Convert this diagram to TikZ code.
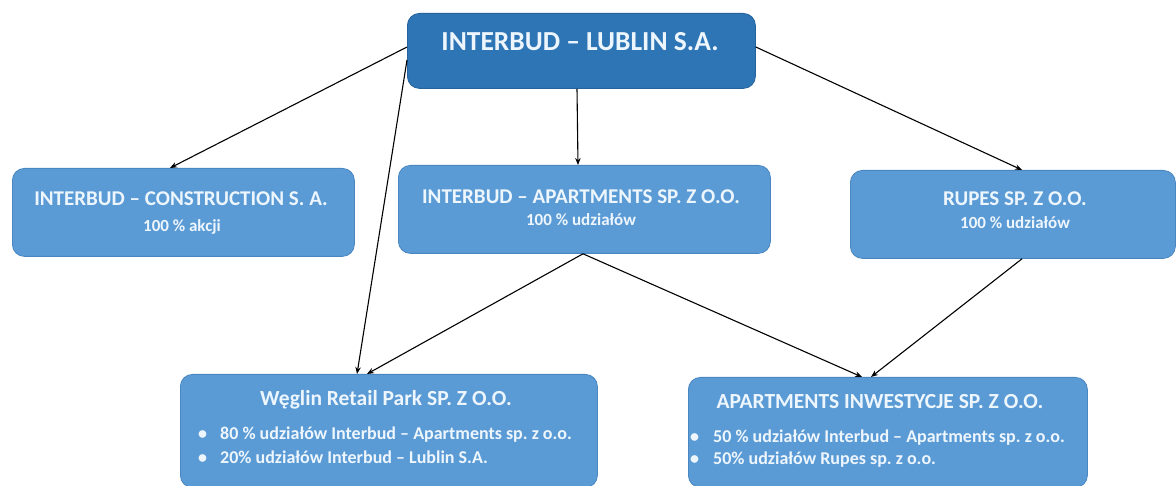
\documentclass[tikz,border=0pt]{standalone}
\usepackage{fontspec}
\setmainfont{Carlito}
\frenchspacing
\usetikzlibrary{arrows.meta,calc}
\definecolor{topblue}{HTML}{2E75B6}
\definecolor{boxblue}{HTML}{5B9BD5}
\definecolor{edgeblue}{HTML}{4A86C0}
\definecolor{txt}{HTML}{EEF6FD}
\tikzset{
  box/.style={draw=edgeblue, line width=0.8pt, fill=boxblue, rounded corners=12pt, inner sep=0pt, anchor=north west},
  topbox/.style={box, fill=topblue, draw=topblue!85!black},
  lbl/.style={text=txt, font=\bfseries, inner sep=0pt},
  conn/.style={draw=black, line width=1.1pt, -{Stealth[length=7pt,width=5.5pt]}},
}
\begin{document}
\begin{tikzpicture}[x=1pt,y=1pt]
\useasboundingbox (0,0) rectangle (1176,485);
% boxes (north west corners, y = 485 - px)
\node[topbox, minimum width=348pt, minimum height=75pt] (top) at (407,472) {};
\node[box, minimum width=342pt, minimum height=88pt] (cons) at (12,317) {};
\node[box, minimum width=372pt, minimum height=88pt] (apt) at (398,320) {};
\node[box, minimum width=325pt, minimum height=88pt] (rupes) at (850,315) {};
\node[box, minimum width=417pt, minimum height=113pt] (weg) at (180,111) {};
\node[box, minimum width=399pt, minimum height=110pt] (ai) at (688,108) {};
% texts
\node[lbl, font=\bfseries\fontsize{27.5}{31}\selectfont] (ttop) at (580,443) {INTERBUD – LUBLIN S.A.};
\node[lbl, font=\bfseries\fontsize{21}{24}\selectfont] (tcons) at (181,286) {INTERBUD – CONSTRUCTION S. A.};
\node[lbl, font=\bfseries\fontsize{17}{20}\selectfont] (tcons2) at (182,258) {100 \% akcji};
\node[lbl, font=\bfseries\fontsize{21}{24}\selectfont] (tapt) at (581,288) {INTERBUD – APARTMENTS SP. Z O.O.};
\node[lbl, font=\bfseries\fontsize{17}{20}\selectfont] (tapt2) at (581,265) {100 \% udziałów};
\node[lbl, font=\bfseries\fontsize{21}{24}\selectfont] (trup) at (1015,286) {RUPES SP. Z O.O.};
\node[lbl, font=\bfseries\fontsize{17}{20}\selectfont] (trup2) at (1015,262) {100 \% udziałów};
\node[lbl, font=\bfseries\fontsize{21.5}{24}\selectfont] (tweg) at (386,85) {Węglin Retail Park SP. Z O.O.};
\node[lbl, anchor=west, font=\bfseries\fontsize{18}{21}\selectfont] (tweg1) at (198,50) {\makebox[22pt][l]{•}80 \% udziałów Interbud – Apartments sp. z o.o.};
\node[lbl, anchor=west, font=\bfseries\fontsize{18}{21}\selectfont] (tweg2) at (198,28) {\makebox[22pt][l]{•}20\% udziałów Interbud – Lublin S.A.};
\node[lbl, font=\bfseries\fontsize{21.5}{24}\selectfont] (tai) at (880,83) {APARTMENTS INWESTYCJE SP. Z O.O.};
\node[lbl, anchor=west, font=\bfseries\fontsize{18}{21}\selectfont] (tai1) at (690,47) {\makebox[23pt][l]{•}50 \% udziałów Interbud – Apartments sp. z o.o.};
\node[lbl, anchor=west, font=\bfseries\fontsize{18}{21}\selectfont] (tai2) at (690,25) {\makebox[23pt][l]{•}50\% udziałów Rupes sp. z o.o.};
% connectors
\draw[conn] ([yshift=-34pt]top.north west) -- ([xshift=158pt]cons.north west);
\draw[conn] ([yshift=-47pt]top.north west) -- ([xshift=177pt]weg.north west);
\draw[conn] ([xshift=170pt]top.south west) -- ([xshift=180pt]apt.north west);
\draw[conn] ([yshift=-34pt]top.north east) -- ([xshift=172pt]rupes.north west);
\draw[conn] ([xshift=185pt]apt.south west) -- ([xshift=187pt]weg.north west);
\draw[conn] ([xshift=185pt]apt.south west) -- ([xshift=174pt]ai.north west);
\draw[conn] ([xshift=172pt]rupes.south west) -- ([xshift=183pt]ai.north west);
\end{tikzpicture}
\end{document}
